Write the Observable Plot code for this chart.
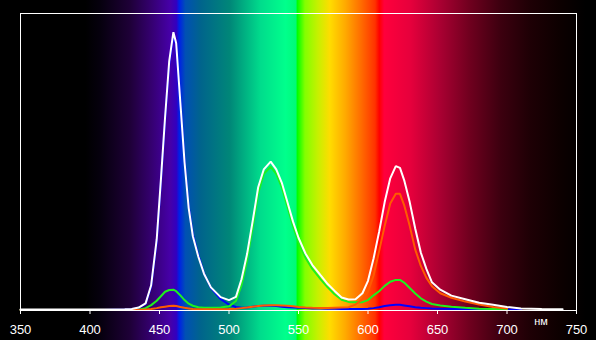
<!DOCTYPE html>
<html><head><meta charset="utf-8">
<script src="https://cdn.jsdelivr.net/npm/d3@7"></script>
<script src="https://cdn.jsdelivr.net/npm/@observablehq/plot@0.6"></script>
<style>html,body{margin:0;padding:0;background:#000;overflow:hidden;}</style>
</head><body><div id="chart"></div>
<script>
const wavelengths = [350,380,410,425,430,435,440,444,448,451,454,457,460,462,465,468,471,474,478,482,487,494,500,505,509,513,517,521,525,530,534,538,542,546,550,555,560,566,571,576,581,586,591,596,600,604,608,612,616,620,623,626,630,634,638,642,646,652,660,670,680,690,700,710,725,740];
const white = [0.3,0.3,0.3,0.4,0.5,1.0,2.4,8.5,24,44,65,84,93.7,90,70,50,34.5,25,18,12.4,7.8,4.5,3.5,4.6,10.5,19,30,41.5,47.5,50.1,47.5,43,36.5,30,24.5,19.2,15.3,11.8,8.9,6.6,4.4,3.7,3.8,5.8,10,17.5,26.5,36.5,44.5,48.6,48,43.9,36.5,27.5,19.5,14,9.5,7,5,3.8,2.6,1.9,1.2,0.7,0.5,0.4];
const red = [0.2,0.2,0.2,0.2,0.2,0.2,0.3,0.5,0.8,1.1,1.3,1.5,1.6,1.5,1.2,0.9,0.7,0.5,0.4,0.4,0.4,0.4,0.5,0.6,0.8,1.0,1.3,1.5,1.7,1.8,1.8,1.7,1.6,1.4,1.2,1.0,0.9,0.8,0.8,0.9,1.0,1.1,2.0,3.8,6.3,11.8,20,28.5,36,39.3,39.3,35.5,28.5,20.5,15,11,8.2,5.8,4.3,3,2,1.2,0.7,null,null,null];
const green = [0.2,0.2,0.2,0.2,0.2,0.3,0.8,1.8,3.3,4.8,6.3,6.9,7,6.5,5.1,3.5,2.3,1.6,1.1,0.9,0.9,1.0,1.4,3.2,8.5,17,28,39.5,46,48.4,46,41.5,35,28.5,23,17.8,14,10.5,7.8,5.5,3.6,2.9,2.8,2.8,3.5,5.1,6.5,8.3,9.7,10.3,10.3,9.4,7.6,5.7,4.1,3.0,2.2,1.7,1.3,0.9,0.6,0.5,0.4,null,null,null];
const blue = [0.2,0.2,0.2,0.3,0.4,0.9,2.2,8,23,43,64,83,92.5,89.5,70,50.5,35,25.5,18.5,12.5,7.6,3.8,2,1.2,0.9,1.0,1.3,1.5,1.6,1.6,1.5,1.3,1.1,1.0,0.9,0.8,0.7,0.7,0.6,0.6,0.5,0.5,0.5,0.5,0.6,0.8,1.1,1.5,1.8,1.9,1.9,1.7,1.4,1.1,0.9,0.8,0.7,0.6,0.5,0.5,0.4,0.4,0.3,0.3,null,null];
const tickValues = [350,400,450,500,550,600,650,700,750];
const unitLabel = ["нм"];
const unitWl = [724.5];
// background spectrum stops (wavelength, colour)
const specWl = [335,397,408,429,444,458,462.5,464.5,469,480,501,523,541,548.5,549.5,555,564.5,573,584,595,605.5,608.5,612,631,652,674,696,717,739,757];
const specColor = ["#000000","#000000","#06000e","#1e0037","#34006e","#4600a8","#3200c0","#0020e6","#0050b4","#00648c","#008778","#00dc8c","#00ff8c","#00fa78","#00ff00","#82ff00","#c8f000","#ffdc00","#ffaa00","#ff6e00","#ff3200","#ff0000","#ff003c","#e6003c","#aa0032","#6e001e","#3c000f","#1e0005","#0c0000","#000000"];

const series = [
  {name: "blue", color: "#0000ff", values: blue},
  {name: "green", color: "#1ef01e", values: green},
  {name: "red", color: "#ff5a00", values: red},
  {name: "white", color: "#ffffff", values: white}
];

const plot = Plot.plot({
  width: 596, height: 340,
  marginLeft: 20, marginRight: 20, marginTop: 13, marginBottom: 30,
  style: {background: "#000", color: "white", fontFamily: "'Liberation Sans', Arial, sans-serif", fontSize: "13px"},
  x: {domain: [350, 750]},
  y: {domain: [0, 100], axis: null},
  marks: [
    ...series.map(s => Plot.line(wavelengths.map((w, i) => ({wl: w, v: s.values[i]})), {
      x: "wl", y: "v", stroke: s.color, strokeWidth: 2, strokeLinejoin: "miter"
    })),
    Plot.frame({stroke: "white", strokeWidth: 1}),
    Plot.axisX({ticks: tickValues, tickSize: 4, tickPadding: 10, label: null, tickFormat: d => String(d), stroke: "white", fill: "white"}),
    Plot.text(unitLabel, {x: (d, i) => unitWl[i], text: d => d, frameAnchor: "bottom", dy: 14, fill: "white", fontSize: 11, letterSpacing: 1.5})
  ]
});
const xs = plot.scale("x");
const stops = specWl.map((w, i) => `${specColor[i]} ${xs.apply(w).toFixed(1)}px`).join(", ");
plot.style.background = `linear-gradient(to right, ${stops})`;
document.getElementById("chart").appendChild(plot);
</script>
</body></html>
